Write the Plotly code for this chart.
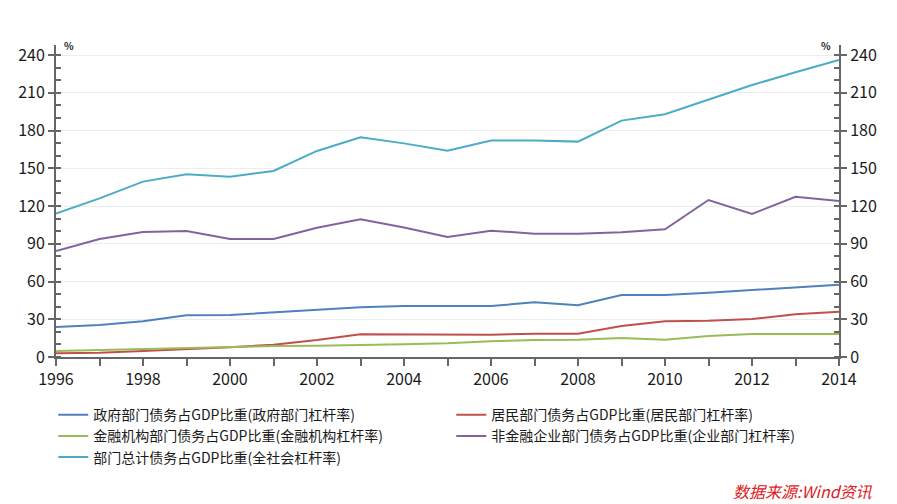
import plotly.graph_objects as go

years = list(range(1996, 2015))
gov = [23.8, 25.4, 28.4, 33.2, 33.4, 35.5, 37.9, 39.5, 40.5, 40.5, 40.5, 43.5, 41.1, 49.3, 49.3, 51.1, 53.3, 55.6, 57.5]
household = [2.9, 3.4, 4.8, 6.1, 7.7, 9.8, 13.5, 18.0, 18.0, 17.5, 17.7, 18.5, 18.5, 24.6, 28.4, 28.9, 30.2, 33.9, 36.0]
financial = [4.8, 5.6, 6.4, 6.9, 7.7, 8.7, 9.0, 9.3, 10.1, 10.9, 12.5, 13.5, 13.8, 15.1, 13.8, 16.7, 18.3, 18.3, 18.3]
corporate = [84.3, 93.8, 99.4, 100.2, 93.8, 93.8, 102.8, 109.4, 103.0, 95.4, 100.4, 98.0, 98.0, 99.1, 101.5, 124.8, 113.7, 127.4, 124.0]
total = [114.0, 126.1, 139.4, 145.2, 143.3, 147.9, 163.8, 174.6, 169.8, 164.0, 172.0, 172.0, 171.2, 187.9, 192.9, 204.8, 216.2, 226.3, 236.1]

names = [
    "政府部门债务占GDP比重(政府部门杠杆率)",
    "居民部门债务占GDP比重(居民部门杠杆率)",
    "金融机构部门债务占GDP比重(金融机构杠杆率)",
    "非金融企业部门债务占GDP比重(企业部门杠杆率)",
    "部门总计债务占GDP比重(全社会杠杆率)",
]
colors = ["#4F81BD", "#C0504D", "#9BBB59", "#8064A2", "#4BACC6"]
series = [gov, household, financial, corporate, total]

FONT = "Noto Sans CJK SC, Noto Sans, sans-serif"

fig = go.Figure()
for name, col, vals in zip(names, colors, series):
    fig.add_trace(go.Scatter(x=years, y=vals, mode="lines", name=name,
                             line=dict(color=col, width=2)))
# invisible trace to anchor right axis
fig.add_trace(go.Scatter(x=years, y=total, yaxis="y2", mode="lines",
                         line=dict(width=0), showlegend=False, hoverinfo="skip",
                         opacity=0))

axis_col = "#666666"
fig.update_layout(
    width=889, height=496,
    margin=dict(l=48, r=58, t=37, b=147, autoexpand=False),
    paper_bgcolor="white", plot_bgcolor="white",
    font=dict(family=FONT, size=16, color="#1a1a1a"),
    xaxis=dict(range=[1996, 2014], tickmode="linear", tick0=1996, dtick=2,
               ticks="outside", ticklen=7, tickwidth=2, tickcolor=axis_col,
               showline=True, linecolor=axis_col, linewidth=2,
               showgrid=False, zeroline=False,
               minor=dict(dtick=1, ticks="outside", ticklen=7, tickwidth=2,
                          tickcolor=axis_col, showgrid=False),
               tickfont=dict(size=16)),
    yaxis=dict(range=[0, 248], tickmode="linear", tick0=0, dtick=30,
               ticks="outside", ticklen=6, tickwidth=2, tickcolor=axis_col,
               showline=True, linecolor=axis_col, linewidth=2,
               showgrid=True, gridcolor="#ececec", gridwidth=1, zeroline=False,
               minor=dict(dtick=10, ticks="inside", ticklen=5, tickwidth=2,
                          tickcolor=axis_col, showgrid=False),
               tickfont=dict(size=16)),
    yaxis2=dict(range=[0, 248], overlaying="y", side="right", tickmode="linear",
                tick0=0, dtick=30,
                ticks="outside", ticklen=6, tickwidth=2, tickcolor=axis_col,
                showline=True, linecolor=axis_col, linewidth=2,
                showgrid=False, zeroline=False,
                minor=dict(dtick=10, ticks="inside", ticklen=5, tickwidth=2,
                           tickcolor=axis_col, showgrid=False),
                tickfont=dict(size=16)),
    legend=dict(orientation="h", x=-0.0035, xanchor="left", y=-0.135, yanchor="top",
                entrywidth=353, entrywidthmode="pixels",
                font=dict(family=FONT, size=14, color="#1a1a1a"),
                bgcolor="rgba(0,0,0,0)", tracegroupgap=0),
    showlegend=True,
)

fig.add_annotation(text="<b>%</b>", x=0.008, y=1.0, xref="paper", yref="paper",
                   xanchor="left", yanchor="middle", showarrow=False,
                   font=dict(size=10, color="#1a1a1a", family=FONT))
fig.add_annotation(text="<b>%</b>", x=0.992, y=1.0, xref="paper", yref="paper",
                   xanchor="right", yanchor="middle", showarrow=False,
                   font=dict(size=10, color="#1a1a1a", family=FONT))
fig.add_annotation(text="<i>数据来源:Wind资讯</i>", x=1.046, y=-0.43,
                   xref="paper", yref="paper", xanchor="right", yanchor="middle",
                   showarrow=False,
                   font=dict(size=16, color="#e0201b", family=FONT))

fig.write_html("out.html")
